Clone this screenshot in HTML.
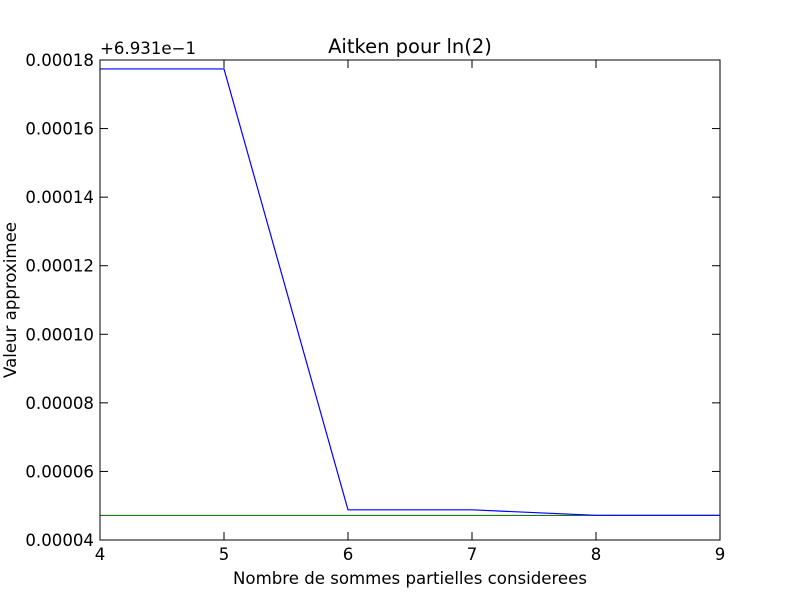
<!DOCTYPE html>
<html><head><meta charset="utf-8"><style>
body{margin:0;background:#fff;}
svg text{font-family:"DejaVu Sans",sans-serif;}
</style></head><body>
<svg id="chart" width="800" height="600" xmlns="http://www.w3.org/2000/svg">
<rect width="800" height="600" fill="#fff"/>
<text x="410" y="53" text-anchor="middle" font-size="19.5">Aitken pour ln(2)</text>
<text x="410" y="584" text-anchor="middle" font-size="16.6">Nombre de sommes partielles considerees</text>
<text transform="translate(16,300) rotate(-90)" text-anchor="middle" font-size="16.6">Valeur approximee</text>
<text x="100" y="54" font-size="16.6">+6.931e−1</text>
<g id="plot"></g>
<rect x="100" y="60" width="620" height="480" fill="none" stroke="#000" stroke-width="1"/>
</svg>
<script>
const xs=[4,5,6,7,8,9];
const aitken=[0.0001774,0.0001774,0.0000488,0.0000488,0.0000472,0.0000472];
const exactVal=[0.0000472,0.0000472];
const xTicks=[4,5,6,7,8,9];
const yTicks=[0.00004,0.00006,0.00008,0.00010,0.00012,0.00014,0.00016,0.00018];
const yTickLabels=["0.00004","0.00006","0.00008","0.00010","0.00012","0.00014","0.00016","0.00018"];
const NS="http://www.w3.org/2000/svg";
const X=v=>100+(v-4)/5*620;
const Y=v=>540-(v-0.00004)/0.00014*480;
const g=document.getElementById('plot');
function mk(t,a){const e=document.createElementNS(NS,t);for(const k in a)e.setAttribute(k,a[k]);g.appendChild(e);return e;}
xTicks.forEach(v=>{
 const x=X(v);
 const t1=mk('line',{x1:x,x2:x,y1:540,y2:532,stroke:'#000'});
 
 
 mk('line',{x1:x,x2:x,y1:60,y2:68,stroke:'#000'});
 const t=mk('text',{x:x,y:560,'text-anchor':'middle','font-size':16.6});
 t.textContent=v;
 
 
});
yTicks.forEach((v,i)=>{
 const y=Y(v);
 const t1=mk('line',{x1:100,x2:108,y1:y,y2:y,stroke:'#000'});
 
 
 mk('line',{x1:712,x2:720,y1:y,y2:y,stroke:'#000'});
 const t=mk('text',{x:94,y:y+6,'text-anchor':'end','font-size':16.6});
 t.textContent=yTickLabels[i];
 
 
});
const gl=mk('polyline',{points:[4,9].map((x,i)=>X(x)+','+Y(exactVal[i])).join(' '),fill:'none',stroke:'#006400','stroke-width':1});


const bl=mk('polyline',{points:xs.map((x,i)=>X(x)+','+Y(aitken[i])).join(' '),fill:'none',stroke:'#0000ff','stroke-width':1.2});


</script>
</body></html>
